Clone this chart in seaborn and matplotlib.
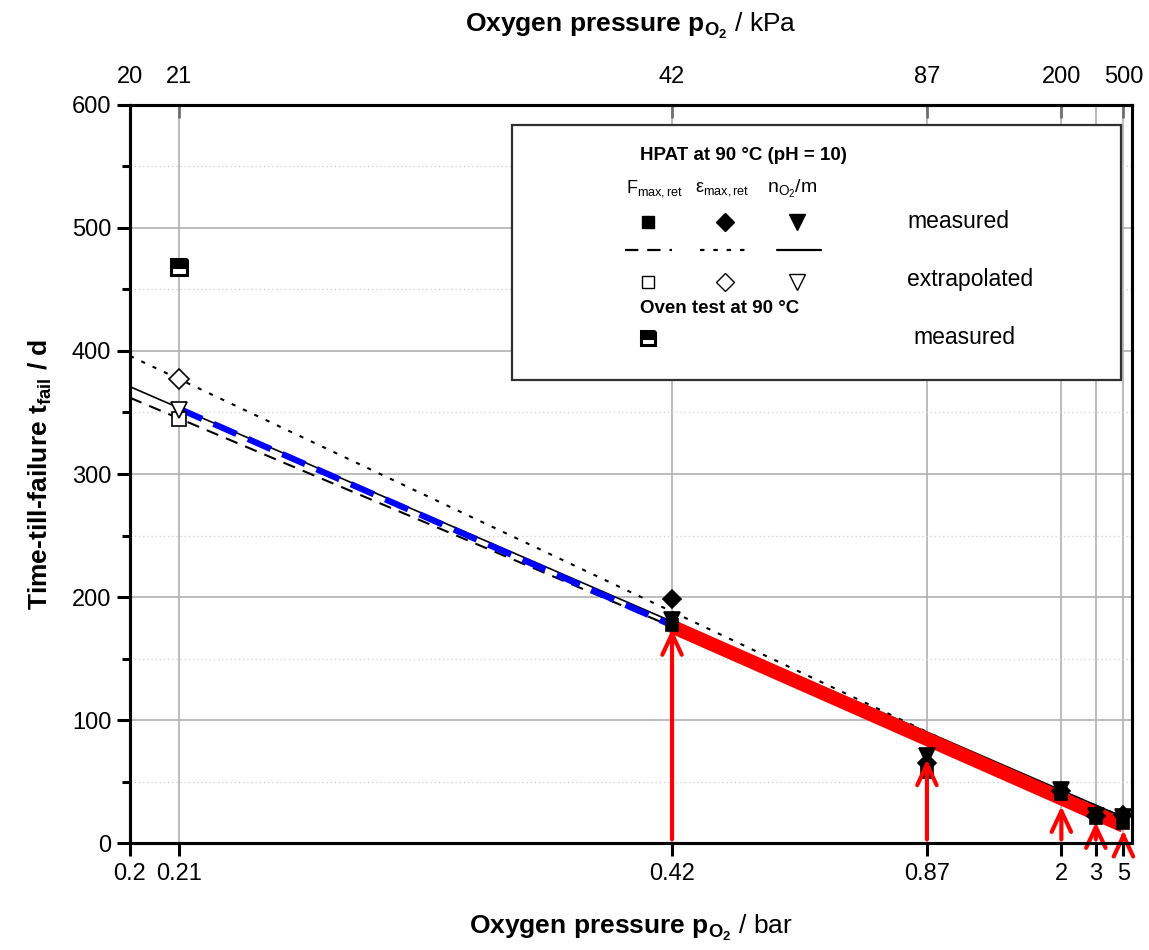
import numpy as np
import matplotlib
matplotlib.use("Agg")
import matplotlib.pyplot as plt
import seaborn as sns
from matplotlib.patches import Rectangle
from matplotlib.ticker import MultipleLocator, NullLocator

# oxygen pressure ticks (bar on bottom, kPa on top)
p_ticks = [0.2, 0.21, 0.42, 0.87, 2, 3, 5]
p_tick_labels = ["0.2", "0.21", "0.42", "0.87", "2", "3", "5"]
kpa_ticks = [0.2, 0.21, 0.42, 0.87, 2, 5]
kpa_tick_labels = ["20", "21", "42", "87", "200", "500"]

# HPAT measured points
p_meas = [0.42, 0.87, 2, 3, 5]
t_fmax = [177, 58, 40, 20, 16]
t_emax = [198, 65, 42, 22, 23]
t_no2 = [181, 71, 43, 22, 21]

# extrapolated to air (0.21 bar)
p_extra = [0.21]
t_fmax_ex = [345]
t_emax_ex = [377]
t_no2_ex = [352]

# oven test
p_oven = [0.21]
t_oven = [468]

# fit lines (straight in 1/p)
p_fit = [0.2, 5]
fit_fmax = [362, 21]
fit_emax = [396, 15]
fit_no2 = [371, 21]

# highlighted segments
p_blue = [0.21, 0.42]
t_blue = [353, 177]
p_red = [0.42, 5]
t_red = [176, 14]

# red arrows
p_arrow = [0.42, 0.87, 2, 3, 5]
t_arrow_base = [3, 3, 3, 3, 3]
t_arrow_tip = [174, 68, 30, 17, 10]

sns.set_style("ticks")
plt.rcParams["font.family"] = ["Liberation Sans", "DejaVu Sans"]
plt.rcParams["text.color"] = "black"
plt.rcParams["axes.labelcolor"] = "black"
plt.rcParams["xtick.color"] = "black"
plt.rcParams["ytick.color"] = "black"
plt.rcParams["axes.edgecolor"] = "black"
plt.rcParams["mathtext.fontset"] = "custom"
plt.rcParams["mathtext.rm"] = "Liberation Sans"
plt.rcParams["mathtext.it"] = "Liberation Sans:italic"
plt.rcParams["mathtext.bf"] = "Liberation Sans:bold"


def fwd(p):
    p = np.asarray(p, dtype=float)
    with np.errstate(divide="ignore"):
        return -1.0 / p


def inv(u):
    u = np.asarray(u, dtype=float)
    with np.errstate(divide="ignore"):
        return -1.0 / u


fig = plt.figure(figsize=(11.49, 9.5), dpi=100)
ax = fig.add_axes([0.1131, 0.1126, 0.8721, 0.7769])
ax.set_xscale("function", functions=(fwd, inv))

# fit lines
sns.lineplot(x=p_fit, y=fit_fmax, ax=ax, color="black", lw=1.5,
             linestyle=(0, (6, 4)), estimator=None, zorder=2)
sns.lineplot(x=p_fit, y=fit_emax, ax=ax, color="black", lw=1.5,
             linestyle=(0, (2, 4)), estimator=None, zorder=2)
sns.lineplot(x=p_fit, y=fit_no2, ax=ax, color="black", lw=1.2,
             linestyle="-", estimator=None, zorder=2)

# highlighted segments
sns.lineplot(x=p_blue, y=t_blue, ax=ax, color="#0000ff", lw=4.5,
             linestyle=(0, (4, 2)), estimator=None, zorder=4)
sns.lineplot(x=p_red, y=t_red, ax=ax, color="#ff0000", lw=10,
             solid_capstyle="butt", estimator=None, zorder=4)

# markers
mk = dict(linestyle="none", estimator=None,
          markeredgecolor="black", markeredgewidth=1.2, zorder=5)
sns.lineplot(x=p_meas, y=t_fmax, ax=ax, marker="s", color="black",
             markerfacecolor="black", markersize=9, **mk)
sns.lineplot(x=p_meas, y=t_emax, ax=ax, marker="D", color="black",
             markerfacecolor="black", markersize=9, **mk)
sns.lineplot(x=p_meas, y=t_no2, ax=ax, marker="v", color="black",
             markerfacecolor="black", markersize=11, **mk)
sns.lineplot(x=p_extra, y=t_fmax_ex, ax=ax, marker="s", color="black",
             markerfacecolor="white", markersize=10, **mk)
sns.lineplot(x=p_extra, y=t_emax_ex, ax=ax, marker="D", color="black",
             markerfacecolor="white", markersize=10, **mk)
sns.lineplot(x=p_extra, y=t_no2_ex, ax=ax, marker="v", color="black",
             markerfacecolor="white", markersize=11, **mk)
sns.lineplot(x=p_oven, y=t_oven, ax=ax, marker="s", color="black",
             markerfacecolor="black", fillstyle="top",
             markerfacecoloralt="white", linestyle="none", estimator=None,
             markersize=11, markeredgecolor="black", markeredgewidth=2.2,
             zorder=5)

# red arrows
for p, t0, t1 in zip(p_arrow, t_arrow_base, t_arrow_tip):
    ax.annotate("", xy=(p, t1), xytext=(p, t0),
                arrowprops=dict(arrowstyle="->,head_length=1.5,head_width=0.7",
                                color="#ff0000", lw=3, shrinkA=0, shrinkB=0),
                zorder=6)

# axes
ax.set_xlim(0.2, 6.3)
ax.set_ylim(0, 600)
ax.set_xticks(p_ticks)
ax.set_xticklabels(p_tick_labels)
ax.xaxis.set_minor_locator(NullLocator())
ax.yaxis.set_major_locator(MultipleLocator(100))
ax.yaxis.set_minor_locator(MultipleLocator(50))

ax.grid(True, which="major", axis="both", color="#b0b0b0", lw=1.2)
ax.grid(True, which="minor", axis="y", color="#d4d4d4", lw=1, linestyle=(0, (1, 2)))
ax.set_axisbelow(True)

for s in ax.spines.values():
    s.set_linewidth(2.2)
    s.set_color("black")

ax.tick_params(axis="y", which="major", direction="out", length=9.5, width=2.2,
               labelsize=17, pad=4)
ax.tick_params(axis="y", which="minor", direction="out", length=5.5, width=2.2)
ax.tick_params(axis="x", which="major", direction="out", length=9.5, width=2.2,
               labelsize=17, pad=5)

ax.set_ylabel(r"Time-till-failure t$_\mathbf{fail}$ / d", fontsize=19,
              fontweight="bold", labelpad=13)
ax.set_xlabel(r"$\mathbf{Oxygen\ pressure\ p_{O_2}}$ / bar", fontsize=19,
              labelpad=20)

# top axis in kPa
ax2 = ax.twiny()
ax2.set_xscale("function", functions=(fwd, inv))
ax2.set_xlim(ax.get_xlim())
ax2.set_xticks(kpa_ticks)
ax2.set_xticklabels(kpa_tick_labels)
ax2.xaxis.set_minor_locator(NullLocator())
ax2.tick_params(axis="x", direction="in", length=9, width=2, color="#707070",
                labelsize=17, pad=12)
for s in ax2.spines.values():
    s.set_linewidth(2.2)
    s.set_color("black")
ax2.set_xlabel(r"$\mathbf{Oxygen\ pressure\ p_{O_2}}$ / kPa", fontsize=19,
               labelpad=25)


# legend drawn as a box in axes coordinates
def axc(px, py):
    return ((px - 130) / 1002, (843 - py) / 738)


x0, y0 = axc(512, 380)
x1, y1 = axc(1121, 125)
ax.add_patch(Rectangle((x0, y0), x1 - x0, y1 - y0, transform=ax.transAxes,
                       facecolor="white", edgecolor="#303030", lw=1.6,
                       zorder=7))

tkw = dict(transform=ax.transAxes, zorder=8, va="center", ha="left")
ax.text(*axc(640, 156), "HPAT at 90 °C (pH = 10)", fontsize=13.5,
        fontweight="bold", **tkw)
hkw = dict(tkw, ha="center")
ax.text(*axc(655, 189), r"F$_\mathregular{max,ret}$", fontsize=13, **hkw)
ax.text(*axc(722, 189), r"ε$_\mathregular{max,ret}$", fontsize=13, **hkw)
ax.text(*axc(792, 189), r"n$_\mathregular{O_2}$/m", fontsize=14, **hkw)
ax.text(*axc(907, 222), "measured", fontsize=16.5, **tkw)
ax.text(*axc(907, 280), "extrapolated", fontsize=16.5, **tkw)
ax.text(*axc(640, 309), "Oven test at 90 °C", fontsize=13.5,
        fontweight="bold", **tkw)
ax.text(*axc(913, 338), "measured", fontsize=16.5, **tkw)

lkw = dict(transform=ax.transAxes, zorder=8, color="black")
for px, m, ms in [(648, "s", 9), (725, "D", 9), (797, "v", 11)]:
    ax.plot(*axc(px, 222), marker=m, markersize=ms,
            markerfacecolor="black", markeredgecolor="black", **lkw)
    ax.plot(*axc(px, 282), marker=m, markersize=ms,
            markerfacecolor="white", markeredgecolor="black",
            markeredgewidth=1.0, **lkw)
ax.plot(*axc(648, 338), marker="s", markersize=10, fillstyle="top",
        markerfacecolor="black", markerfacecoloralt="white",
        markeredgecolor="black", markeredgewidth=2.2, **lkw)

xa, ya = axc(625, 250)
xb, _ = axc(672, 250)
ax.plot([xa, xb], [ya, ya], lw=1.6, linestyle=(0, (6, 4)), **lkw)
xa, _ = axc(700, 250)
xb, _ = axc(745, 250)
ax.plot([xa, xb], [ya, ya], lw=1.6, linestyle=(0, (2, 4)), **lkw)
xa, _ = axc(777, 250)
xb, _ = axc(821, 250)
ax.plot([xa, xb], [ya, ya], lw=1.6, linestyle="-", **lkw)

fig.savefig("out.png", dpi=100)
